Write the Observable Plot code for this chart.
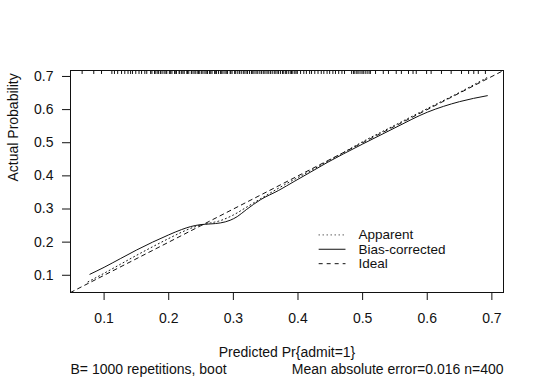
<!DOCTYPE html>
<html>
<head>
<meta charset="utf-8">
<script src="https://cdn.jsdelivr.net/npm/d3@7"></script>
<script src="https://cdn.jsdelivr.net/npm/@observablehq/plot@0.6"></script>
<style>
  html, body { margin: 0; padding: 0; background: #fff; }
  #chart { width: 540px; height: 379px; }
</style>
</head>
<body>
<div id="chart"></div>
<script>
// ---- data ----
const tickValues = [0.1, 0.2, 0.3, 0.4, 0.5, 0.6, 0.7];
const tickLabels = ["0.1", "0.2", "0.3", "0.4", "0.5", "0.6", "0.7"];

// Apparent calibration curve (dotted)
const apparentX = [0.075, 0.10, 0.125, 0.15, 0.175, 0.20, 0.22, 0.24, 0.26, 0.28, 0.30, 0.32, 0.35, 0.38, 0.42, 0.46, 0.50, 0.55, 0.60, 0.65, 0.693];
const apparentY = [0.080, 0.106, 0.133, 0.160, 0.186, 0.211, 0.230, 0.246, 0.256, 0.265, 0.282, 0.305, 0.340, 0.374, 0.416, 0.459, 0.503, 0.553, 0.603, 0.652, 0.697];

// Bias-corrected calibration curve (solid)
const biasX = [0.078, 0.10, 0.125, 0.15, 0.175, 0.20, 0.22, 0.234, 0.25, 0.265, 0.28, 0.295, 0.306, 0.32, 0.342, 0.37, 0.394, 0.42, 0.445, 0.47, 0.50, 0.55, 0.60, 0.65, 0.693];
const biasY = [0.103, 0.124, 0.150, 0.176, 0.200, 0.222, 0.238, 0.247, 0.253, 0.255, 0.258, 0.266, 0.277, 0.298, 0.328, 0.356, 0.383, 0.412, 0.440, 0.466, 0.496, 0.545, 0.592, 0.624, 0.642];

// Rug of predicted probabilities (top of the panel)
const rugValues = [
  0.066, 0.084, 0.096,
  0.112, 0.116, 0.121, 0.127, 0.132, 0.137, 0.141, 0.144, 0.149, 0.154, 0.158, 0.163, 0.166,
  0.172, 0.174, 0.178, 0.179, 0.182, 0.184, 0.187, 0.188, 0.191, 0.194, 0.196, 0.197, 0.201, 0.203,
  0.205, 0.209, 0.210, 0.212, 0.216, 0.217, 0.220, 0.222, 0.224, 0.228, 0.229, 0.231, 0.235, 0.236,
  0.239, 0.241, 0.244, 0.246, 0.248, 0.251, 0.253, 0.256, 0.258, 0.260, 0.263, 0.265, 0.267, 0.271,
  0.272, 0.274, 0.277, 0.280, 0.282, 0.284, 0.287, 0.289, 0.291, 0.295, 0.296, 0.298, 0.302, 0.303,
  0.306, 0.309, 0.310, 0.313, 0.316, 0.318, 0.321, 0.322, 0.325, 0.328, 0.330, 0.332, 0.335, 0.337,
  0.340, 0.343, 0.344, 0.347, 0.349, 0.352, 0.354, 0.357, 0.358, 0.361, 0.364, 0.366, 0.369, 0.370,
  0.373, 0.376, 0.378, 0.381, 0.382, 0.385, 0.388, 0.390, 0.392, 0.395, 0.397, 0.399,
  0.404, 0.409, 0.413, 0.418, 0.421, 0.426, 0.431, 0.436, 0.440, 0.445, 0.449, 0.454, 0.458, 0.463, 0.468, 0.472,
  0.483, 0.486, 0.488, 0.491, 0.493, 0.496, 0.499, 0.501, 0.504, 0.507, 0.510,
  0.512, 0.520, 0.532, 0.540, 0.552, 0.560, 0.571, 0.578, 0.583, 0.599, 0.606, 0.622, 0.637, 0.653, 0.664, 0.672, 0.679, 0.690
];

const legendLabels = ["Apparent", "Bias-corrected", "Ideal"];
const legendDash = ["1,3", "none", "4,4"];

const xLabel = "Predicted Pr{admit=1}";
const yLabel = "Actual Probability";
const footLeft = "B= 1000 repetitions, boot";
const footRight = "Mean absolute error=0.016 n=400";

// ---- layout constants ----
const lim = [0.048, 0.718];
const rugLen = 0.012;
const legX1 = 0.432, legX2 = 0.4735, legTextX = 0.4935;
const legY = [0.2218, 0.1785, 0.135];

const apparent = apparentX.map((x, i) => ({x, y: apparentY[i]}));
const bias = biasX.map((x, i) => ({x, y: biasY[i]}));
const ideal = lim.map(v => ({x: v, y: v}));
const legend = legendLabels.map((label, i) => ({label, dash: legendDash[i], y: legY[i]}));

const ink = "#111";

const legendLines = legend.map(d =>
  Plot.link([d], {x1: () => legX1, x2: () => legX2, y1: "y", y2: "y", stroke: ink, strokeWidth: 1, strokeDasharray: d.dash})
);

const chart = Plot.plot({
  width: 540,
  height: 379,
  marginLeft: 70,
  marginRight: 37,
  marginTop: 70,
  marginBottom: 87,
  style: {fontFamily: "'Liberation Sans', Arial, sans-serif", fontSize: "14px", color: ink, background: "#fff"},
  x: {domain: lim},
  y: {domain: lim},
  marks: [
    Plot.axisX({ticks: tickValues, tickFormat: (d, i) => tickLabels[i], tickSize: 8, tickPadding: 13, label: null, fontSize: 14}),
    Plot.axisY({ticks: tickValues, tickFormat: (d, i) => tickLabels[i], tickSize: 8, tickPadding: 9, label: null, fontSize: 14}),
    Plot.frame({stroke: ink}),
    // rug
    Plot.ruleX(rugValues, {x: d => d, y1: lim[1], y2: lim[1] - rugLen, stroke: ink, strokeWidth: 1}),
    // ideal
    Plot.line(ideal, {x: "x", y: "y", stroke: ink, strokeDasharray: "4,4", strokeWidth: 1}),
    // apparent
    Plot.line(apparent, {x: "x", y: "y", stroke: ink, strokeDasharray: "1,3", strokeWidth: 1, curve: "monotone-x"}),
    // bias-corrected
    Plot.line(bias, {x: "x", y: "y", stroke: ink, strokeWidth: 1, curve: "monotone-x"}),
    // legend
    ...legendLines,
    Plot.text(legend, {x: () => legTextX, y: "y", text: "label", textAnchor: "start", lineAnchor: "middle", fill: ink, fontSize: 13.5}),
    // axis titles and footnotes
    Plot.text([xLabel], {frameAnchor: "bottom", dy: 60.5, lineAnchor: "middle", fill: ink, fontSize: 14}),
    Plot.text([yLabel], {frameAnchor: "left", dx: -56.5, rotate: -90, lineAnchor: "middle", fill: ink, fontSize: 14}),
    Plot.text([footLeft], {frameAnchor: "bottom-left", dy: 77.5, textAnchor: "start", lineAnchor: "middle", fill: ink, fontSize: 14}),
    Plot.text([footRight], {frameAnchor: "bottom-right", dy: 77.5, textAnchor: "end", lineAnchor: "middle", fill: ink, fontSize: 14})
  ]
});
document.getElementById("chart").appendChild(chart);
</script>
</body>
</html>
